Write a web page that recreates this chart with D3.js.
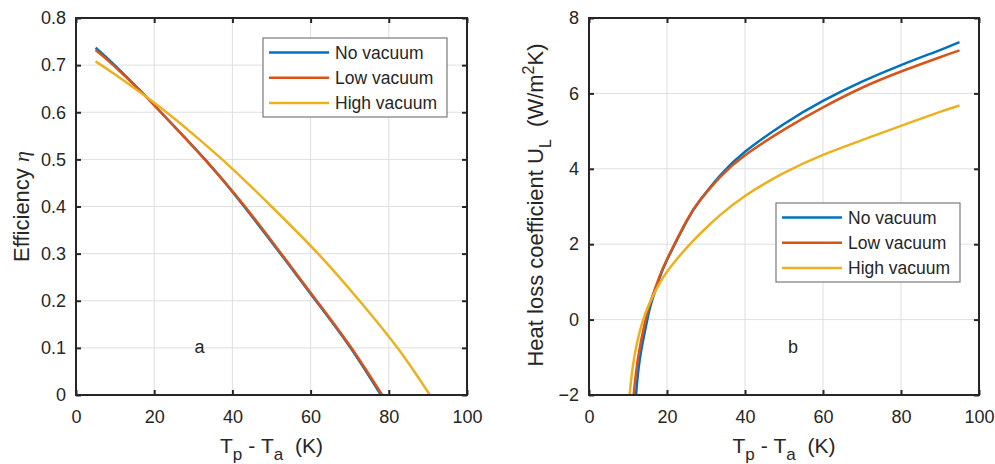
<!DOCTYPE html>
<html><head><meta charset="utf-8">
<script src="https://cdn.jsdelivr.net/npm/d3@7"></script>
<style>
html,body{margin:0;padding:0;background:#fff;}
svg{display:block;}
text{font-family:"Liberation Sans",Arial,sans-serif;fill:#262626;}
</style></head><body>
<svg id="c" width="995" height="464"></svg>
<script>
// ---------- data ----------
const seriesNames = ["No vacuum","Low vacuum","High vacuum"];
const seriesColors = ["#0072BD","#D95319","#EDB120"];

// (a) efficiency vs Tp - Ta
const effNoX   = [5,10,17.1,21.7,33.0,43.0,52.0,60.9,69.9,78.0];
const effNoY   = [0.737,0.699,0.640,0.600,0.500,0.400,0.303,0.205,0.104,0];
const effLowX  = [5,9.5,17.1,21.7,32.9,43.2,52.2,61.1,70.1,78.3];
const effLowY  = [0.732,0.700,0.640,0.600,0.500,0.400,0.303,0.205,0.104,0];
const effHighX = [5,10,20,30,40,50,61.9,72.6,82.4,90.5];
const effHighY = [0.708,0.680,0.620,0.553,0.480,0.400,0.300,0.199,0.098,0];

// (b) heat loss coefficient vs Tp - Ta
const ulNoX   = [12.05,13.1,14.96,16,18,20,25,28.5,33.6,40,50,60,70,80,90,95];
const ulNoY   = [-2,-1,0,0.45,1.07,1.58,2.6,3.17,3.82,4.45,5.19,5.80,6.31,6.75,7.15,7.36];
const ulLowX  = [11.45,12.6,14.5,16,18,20,25,28.5,33.6,40,50,60,70,80,90,95];
const ulLowY  = [-2,-1,0,0.55,1.12,1.6,2.62,3.17,3.78,4.36,5.04,5.63,6.15,6.58,6.96,7.14];
const ulHighX = [10.4,11.6,13.9,16.5,20,25.9,30,33.6,40,50,60,70,80,90,95];
const ulHighY = [-2,-1,0,0.65,1.27,2.0,2.43,2.77,3.28,3.89,4.37,4.76,5.14,5.51,5.68];

const xTicks = [0,20,40,60,80,100];
const effTicks = [0,0.1,0.2,0.3,0.4,0.5,0.6,0.7,0.8];
const ulTicks = [-2,0,2,4,6,8];

// ---------- drawing ----------
const svg = d3.select("#c");
const zip = (xs, ys) => xs.map((x,i)=>[x, ys[i]]);

function panel(opt){
  const {x0,x1,y0,y1,yDomain,yTicks,yFmt,series,legendBox,tag,tagPos,id} = opt;
  const x = d3.scaleLinear().domain([0,100]).range([x0,x1]);
  const y = d3.scaleLinear().domain(yDomain).range([y1,y0]);
  const g = svg.append("g");
  g.append("rect").attr("x",x0).attr("y",y0).attr("width",x1-x0).attr("height",y1-y0).attr("fill","#fff");
  // grid
  g.append("g").selectAll("line").data(xTicks.slice(1,-1)).join("line")
    .attr("x1",d=>x(d)).attr("x2",d=>x(d)).attr("y1",y0).attr("y2",y1)
    .attr("stroke","#dfdfdf").attr("stroke-width",1);
  g.append("g").selectAll("line").data(yTicks.slice(1,-1)).join("line")
    .attr("y1",d=>y(d)).attr("y2",d=>y(d)).attr("x1",x0).attr("x2",x1)
    .attr("stroke","#dfdfdf").attr("stroke-width",1);
  // clip
  svg.append("clipPath").attr("id","clip"+id).append("rect")
    .attr("x",x0).attr("y",y0).attr("width",x1-x0).attr("height",y1-y0);
  const line = d3.line().x(d=>x(d[0])).y(d=>y(d[1])).curve(d3.curveNatural);
  g.append("g").attr("clip-path",`url(#clip${id})`).selectAll("path").data(series).join("path")
    .attr("d",d=>line(d)).attr("fill","none")
    .attr("stroke",(d,i)=>seriesColors[i]).attr("stroke-width",2.5).attr("stroke-linejoin","round");
  // axes
  const fs = "18px";
  const ax = g.append("g").attr("transform",`translate(0,${y1})`)
    .call(d3.axisBottom(x).tickValues(xTicks).tickSize(-5).tickPadding(15).tickFormat(d3.format("d")));
  const ay = g.append("g").attr("transform",`translate(${x0},0)`)
    .call(d3.axisLeft(y).tickValues(yTicks).tickSize(-5).tickPadding(10).tickFormat(yFmt));
  const at = g.append("g").attr("transform",`translate(0,${y0})`)
    .call(d3.axisTop(x).tickValues(xTicks).tickSize(-5).tickFormat(""));
  const ar = g.append("g").attr("transform",`translate(${x1},0)`)
    .call(d3.axisRight(y).tickValues(yTicks).tickSize(-5).tickFormat(""));
  [ax,ay,at,ar].forEach(a=>{
    a.select(".domain").remove();
    a.selectAll(".tick line").attr("stroke","#262626").attr("stroke-width",2);
    a.selectAll(".tick text").attr("font-size",fs).attr("font-family",null).attr("fill","#262626");
  });
  g.append("rect").attr("x",x0).attr("y",y0).attr("width",x1-x0).attr("height",y1-y0)
    .attr("fill","none").attr("stroke","#262626").attr("stroke-width",2);
  // tag
  g.append("text").attr("x",tagPos[0]).attr("y",tagPos[1]).attr("text-anchor","middle")
    .attr("font-size","18px").attr("fill","#000").text(tag);
  // legend
  const [lx,ly,lw,lh] = legendBox;
  const lg = g.append("g");
  lg.append("rect").attr("x",lx).attr("y",ly).attr("width",lw).attr("height",lh)
    .attr("fill","#fff").attr("stroke","#7a7a7a").attr("stroke-width",1.2);
  seriesNames.forEach((n,i)=>{
    const cy = ly + 14.5 + i*25.3;
    lg.append("line").attr("x1",lx+6).attr("x2",lx+66).attr("y1",cy).attr("y2",cy)
      .attr("stroke",seriesColors[i]).attr("stroke-width",2.5);
    lg.append("text").attr("x",lx+72).attr("y",cy).attr("dy","0.35em")
      .attr("font-size","17.5px").attr("fill","#000").text(n);
  });
  // x label
  const xl = g.append("text").attr("x",(x0+x1)/2).attr("y",453).attr("text-anchor","middle")
    .attr("font-size","21px");
  xl.append("tspan").text("T");
  xl.append("tspan").attr("dy",6.5).attr("font-size","17px").text("p");
  xl.append("tspan").attr("dy",-6.5).text("\u00A0-\u00A0T");
  xl.append("tspan").attr("dy",6.5).attr("font-size","17px").text("a");
  xl.append("tspan").attr("dy",-6.5).text("\u00A0\u00A0(K)");
  return g;
}

panel({id:"a",x0:76,x1:467,y0:18,y1:395,yDomain:[0,0.8],yTicks:effTicks,
  yFmt:d=>d===0?"0":d3.format(".1f")(d),
  series:[zip(effNoX,effNoY),zip(effLowX,effLowY),zip(effHighX,effHighY)],
  legendBox:[263,38,184,79],tag:"a",tagPos:[199.5,353]});
panel({id:"b",x0:589,x1:979,y0:18,y1:395,yDomain:[-2,8],yTicks:ulTicks,
  yFmt:d3.format("d"),
  series:[zip(ulNoX,ulNoY),zip(ulLowX,ulLowY),zip(ulHighX,ulHighY)],
  legendBox:[776,203,184,79],tag:"b",tagPos:[793,353]});

// y labels
const yl1 = svg.append("text").attr("transform","translate(28.5,206.5) rotate(-90)")
  .attr("text-anchor","middle").attr("font-size","22px");
yl1.append("tspan").text("Efficiency\u00A0");
yl1.append("tspan").attr("font-family","'Liberation Serif',serif").attr("font-style","italic").text("η");

const yl2 = svg.append("text").attr("transform","translate(543,205) rotate(-90)")
  .attr("text-anchor","middle").attr("font-size","22px");
yl2.append("tspan").text("Heat loss coefficient U");
yl2.append("tspan").attr("dy",8).attr("font-size","16px").text("L");
yl2.append("tspan").attr("dy",-8).text("\u00A0\u00A0(W/m");
yl2.append("tspan").attr("dy",-9).attr("font-size","16px").text("2");
yl2.append("tspan").attr("dy",9).text("K)");
</script>
</body></html>
